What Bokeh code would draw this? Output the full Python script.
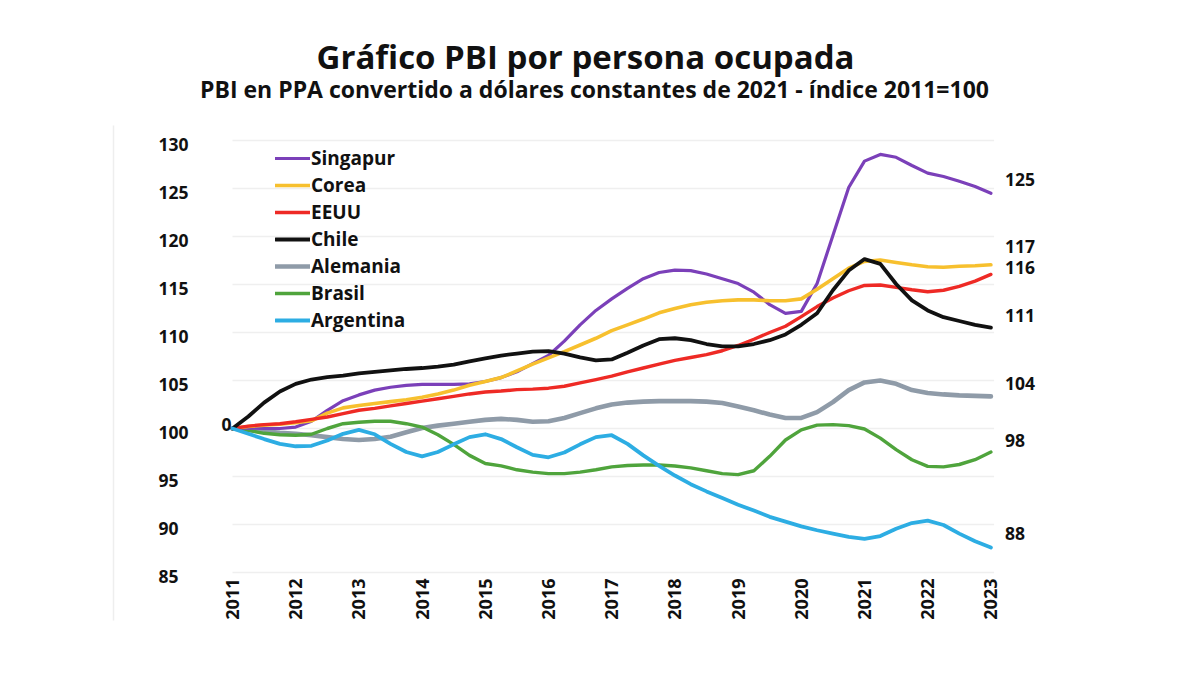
import math
from bokeh.plotting import figure
from bokeh.models import ColumnDataSource, Legend, LegendItem, Label
from bokeh.core.properties import value
from bokeh.embed import file_html
from bokeh.resources import INLINE

# ---------------- data (quarter-year readings) ----------------
T = [2011.0, 2011.25, 2011.5, 2011.75, 2012.0, 2012.25, 2012.5, 2012.75,
     2013.0, 2013.25, 2013.5, 2013.75, 2014.0, 2014.25, 2014.5, 2014.75,
     2015.0, 2015.25, 2015.5, 2015.75, 2016.0, 2016.25, 2016.5, 2016.75,
     2017.0, 2017.25, 2017.5, 2017.75, 2018.0, 2018.25, 2018.5, 2018.75,
     2019.0, 2019.25, 2019.5, 2019.75, 2020.0, 2020.25, 2020.5, 2020.75,
     2021.0, 2021.25, 2021.5, 2021.75, 2022.0, 2022.25, 2022.5, 2022.75,
     2023.0]

singapur = [100.0, 100.05, 100.0, 100.0, 100.15, 100.75, 101.9, 102.9,
            103.5, 104.0, 104.3, 104.5, 104.6, 104.6, 104.6, 104.65,
            104.9, 105.3, 105.9, 106.75, 107.6, 109.1, 110.8, 112.3,
            113.5, 114.6, 115.6, 116.25, 116.5, 116.45, 116.1, 115.6,
            115.1, 114.2, 112.9, 112.0, 112.2, 115.1, 120.1, 125.1,
            127.85, 128.55, 128.25, 127.4, 126.6, 126.25, 125.75, 125.2,
            124.5]
corea = [100.0, 100.2, 100.35, 100.45, 100.6, 100.8, 101.6, 102.15,
         102.4, 102.6, 102.8, 103.0, 103.25, 103.6, 104.0, 104.5,
         104.9, 105.3, 106.0, 106.7, 107.35, 108.0, 108.7, 109.4,
         110.2, 110.8, 111.4, 112.05, 112.5, 112.9, 113.15, 113.3,
         113.4, 113.4, 113.3, 113.3, 113.5, 114.5, 115.6, 116.7,
         117.4, 117.55, 117.3, 117.05, 116.85, 116.8, 116.9, 116.95,
         117.05]
eeuu = [100.0, 100.25, 100.4, 100.5, 100.7, 100.95, 101.2, 101.55,
        101.9, 102.1, 102.35, 102.6, 102.85, 103.1, 103.35, 103.6,
        103.8, 103.9, 104.05, 104.1, 104.2, 104.4, 104.75, 105.1,
        105.45, 105.9, 106.3, 106.7, 107.1, 107.4, 107.7, 108.1,
        108.65, 109.3, 110.0, 110.65, 111.65, 112.7, 113.6, 114.35,
        114.9, 114.95, 114.7, 114.45, 114.25, 114.4, 114.8, 115.35,
        116.05]
chile = [100.0, 101.25, 102.7, 103.85, 104.65, 105.1, 105.35, 105.5,
         105.75, 105.9, 106.05, 106.2, 106.3, 106.45, 106.65, 107.0,
         107.3, 107.6, 107.8, 108.0, 108.05, 107.8, 107.4, 107.1,
         107.2, 107.9, 108.65, 109.3, 109.4, 109.2, 108.8, 108.55,
         108.55, 108.8, 109.2, 109.8, 110.8, 112.0, 114.4, 116.45,
         117.65, 117.15, 115.05, 113.35, 112.3, 111.6, 111.2, 110.8,
         110.5]
alemania = [100.0, 99.85, 99.7, 99.55, 99.45, 99.3, 99.1, 98.9,
            98.8, 98.9, 99.15, 99.6, 100.05, 100.3, 100.5, 100.7,
            100.9, 101.0, 100.9, 100.7, 100.75, 101.1, 101.6, 102.1,
            102.5, 102.7, 102.8, 102.85, 102.85, 102.85, 102.8, 102.65,
            102.3, 101.9, 101.45, 101.1, 101.1, 101.7, 102.75, 104.0,
            104.8, 105.0, 104.65, 104.0, 103.7, 103.55, 103.45, 103.4,
            103.35]
brasil = [100.0, 99.8, 99.5, 99.35, 99.3, 99.4, 100.0, 100.5,
          100.65, 100.75, 100.75, 100.5, 100.15, 99.35, 98.35, 97.2,
          96.35, 96.1, 95.7, 95.45, 95.3, 95.3, 95.45, 95.7,
          96.0, 96.15, 96.2, 96.2, 96.1, 95.9, 95.6, 95.3,
          95.2, 95.6, 97.1, 98.8, 99.85, 100.35, 100.4, 100.3,
          99.95, 99.0, 97.8, 96.75, 96.05, 96.0, 96.25, 96.75,
          97.55]
argentina = [100.0, 99.45, 98.9, 98.4, 98.15, 98.2, 98.75, 99.45,
             99.85, 99.4, 98.4, 97.55, 97.1, 97.55, 98.35, 99.1,
             99.4, 98.9, 98.05, 97.25, 97.0, 97.5, 98.35, 99.1,
             99.3, 98.4, 97.2, 96.1, 95.1, 94.2, 93.45, 92.75,
             92.05, 91.45, 90.8, 90.3, 89.8, 89.4, 89.05, 88.7,
             88.5, 88.8, 89.55, 90.15, 90.4, 89.95, 89.05, 88.25,
             87.6]

SERIES_NAMES = ["Singapur", "Corea", "EEUU", "Chile", "Alemania", "Brasil", "Argentina"]
SERIES_VALUES = [singapur, corea, eeuu, chile, alemania, brasil, argentina]

YEAR_TICKS = [2011, 2012, 2013, 2014, 2015, 2016, 2017, 2018, 2019, 2020, 2021, 2022, 2023]
YEAR_LABELS = ["2011", "2012", "2013", "2014", "2015", "2016", "2017", "2018", "2019",
               "2020", "2021", "2022", "2023"]
Y_TICKS = [85, 90, 95, 100, 105, 110, 115, 120, 125, 130]
Y_LABELS = ["85", "90", "95", "100", "105", "110", "115", "120", "125", "130"]
END_LABELS = ["125", "117", "116", "111", "104", "98", "88"]
START_LABEL = "0"

TITLE = "Gráfico PBI por persona ocupada"
SUBTITLE = "PBI en PPA convertido a dólares constantes de 2021 - índice 2011=100"

# ---------------- style / layout ----------------
COLORS = {"Singapur": "#7b40b9", "Corea": "#f7c02e", "EEUU": "#ee2a25", "Chile": "#111111",
          "Alemania": "#8f9ba8", "Brasil": "#4fa43c", "Argentina": "#2dade3"}
WIDTHS = {"Singapur": 3.2, "Corea": 3.6, "EEUU": 3.4, "Chile": 3.8,
          "Alemania": 4.6, "Brasil": 3.4, "Argentina": 3.8}
DRAW_ORDER = ["Alemania", "Brasil", "Singapur", "Corea", "EEUU", "Chile", "Argentina"]
END_OFFSETS = [-9, -19, -7, -7, -7, -7, -10]
FONT = "Open Sans"

W, H = 1184, 655
PX_YEAR = 63.2          # pixels per year
PX_UNIT = 9.6           # pixels per index point
X0_PX = 232             # canvas x of 2011
Y100_PX = 428           # canvas y (from top) of index 100

x_start = 2011 - X0_PX / PX_YEAR
x_end = x_start + W / PX_YEAR
y_end = 100 + Y100_PX / PX_UNIT
y_start = y_end - H / PX_UNIT


def fx(px):   # canvas pixel -> data x
    return x_start + px / PX_YEAR


def fy(py):   # canvas pixel (from top) -> data y
    return y_end - py / PX_UNIT


p = figure(width=W, height=H, x_range=(x_start, x_end), y_range=(y_start, y_end),
           output_backend="svg", toolbar_location=None,
           x_axis_location=None, y_axis_location=None, min_border=0)
p.outline_line_color = None
p.xgrid.visible = False
p.ygrid.visible = False
p.background_fill_color = "white"
p.border_fill_color = "white"

# faint left border line
p.segment(x0=[fx(113)], y0=[fy(125)], x1=[fx(113)], y1=[fy(620)],
          line_color="#eeeeee", line_width=1.5)

# light gridlines
p.segment(x0=[YEAR_TICKS[0]] * len(Y_TICKS), x1=[YEAR_TICKS[-1] + 0.05] * len(Y_TICKS),
          y0=Y_TICKS, y1=Y_TICKS, line_color="#efefef", line_width=1.5)

# y tick labels
p.text(x=[fx(158)] * len(Y_TICKS), y=Y_TICKS, text=Y_LABELS,
       text_font=value(FONT), text_font_style="bold", text_font_size="17.5px",
       text_align="left", text_baseline="middle", y_offset=4, text_color="#111111")

# x tick labels (rotated)
p.text(x=YEAR_TICKS, y=[fy(578)] * len(YEAR_TICKS), text=YEAR_LABELS, angle=math.pi / 2,
       text_font=value(FONT), text_font_style="bold", text_font_size="18px",
       text_align="right", text_baseline="middle", text_color="#111111")

# lines
renderers = {}
for name in DRAW_ORDER:
    vals = SERIES_VALUES[SERIES_NAMES.index(name)]
    src = ColumnDataSource(dict(x=T, y=vals))
    renderers[name] = p.line("x", "y", source=src, line_color=COLORS[name],
                             line_width=WIDTHS[name], line_join="round", line_cap="round")

# start label "0"
p.text(x=[YEAR_TICKS[0]], y=[100], text=[START_LABEL], text_font=value(FONT),
       text_font_style="bold", text_font_size="17.5px", text_align="right",
       text_baseline="middle", x_offset=-1, y_offset=-4, text_color="#111111")

# end labels
end_src = ColumnDataSource(dict(x=[YEAR_TICKS[-1]] * len(END_LABELS),
                                y=[float(s) for s in END_LABELS],
                                text=END_LABELS, dy=END_OFFSETS))
p.text(x="x", y="y", text="text", source=end_src, x_offset=14, y_offset="dy",
       text_font=value(FONT), text_font_style="bold", text_font_size="17.5px",
       text_align="left", text_baseline="middle", text_color="#111111")

# legend
items = [LegendItem(label=n, renderers=[renderers[n]]) for n in SERIES_NAMES]
legend = Legend(items=items, location=(275, H - 333), orientation="vertical",
                label_text_font=FONT, label_text_font_size="19px",
                label_text_font_style="bold", label_text_color="#111111",
                glyph_width=35, glyph_height=20, label_height=20, label_standoff=1,
                spacing=1, padding=0, margin=0, border_line_color=None,
                background_fill_alpha=0)
p.add_layout(legend)

# titles
p.add_layout(Label(x=585, y=H - 56, x_units="screen", y_units="screen", text=TITLE,
                   text_align="center", text_baseline="middle", text_font=FONT,
                   text_font_size="33px", text_font_style="bold", text_color="#111111"))
p.add_layout(Label(x=594, y=H - 88, x_units="screen", y_units="screen", text=SUBTITLE,
                   text_align="center", text_baseline="middle", text_font=FONT,
                   text_font_size="23px", text_font_style="bold", text_color="#111111"))

open("out.html", "w").write(file_html(p, INLINE))
